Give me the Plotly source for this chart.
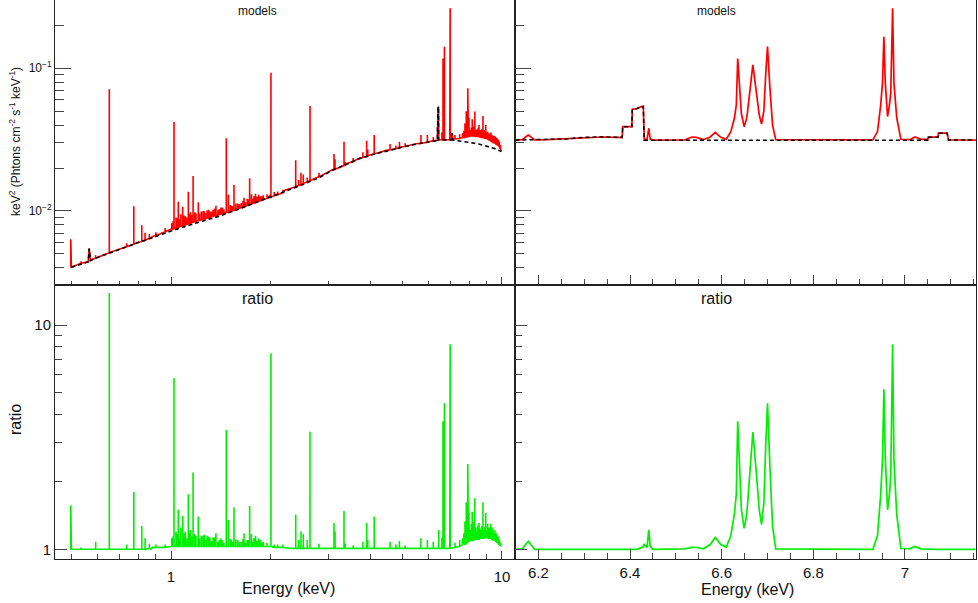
import plotly.graph_objects as go

# ---------------- DATA ----------------
# Wide band (0.5-10 keV): continuum model (black dashed)
CONT_E = [0.50, 0.562, 0.566, 0.571, 0.60, 0.70, 0.80, 0.90, 1.00, 1.20, 1.40, 1.60, 1.80, 2.00, 2.21,
          2.50, 2.80, 3.10, 3.40, 3.70, 4.00, 4.50, 5.00, 5.50, 6.00, 6.38, 6.384, 6.404, 6.405, 6.429,
          6.431, 7.05, 7.051, 7.073, 7.095, 7.50, 8.00, 8.50, 9.00, 9.50, 9.96]
CONT_Y = [0.00403, 0.00440, 0.00545, 0.00450, 0.00473, 0.00541, 0.00603, 0.00663, 0.00724, 0.00828,
          0.00920, 0.01030, 0.01140, 0.01260, 0.01370, 0.01530, 0.01710, 0.01950, 0.02130, 0.02320,
          0.02460, 0.02650, 0.02800, 0.02940, 0.03040, 0.03120, 0.0390, 0.0390, 0.0516, 0.0540,
          0.0314, 0.0314, 0.0329, 0.0351, 0.0314, 0.0310, 0.0302, 0.0295, 0.0285, 0.0274, 0.0261]

# Wide band: full model (red) baseline knots between lines
MODEL_KNOT_E = [0.50, 0.562, 0.566, 0.571, 0.60, 0.70, 0.80, 0.88, 0.90, 1.00, 1.20, 1.40, 1.60, 1.80,
                2.00, 2.21, 2.50, 2.80, 3.10, 3.40, 3.70, 4.00, 4.50, 5.00, 5.50, 6.00, 6.38, 6.384,
                6.404, 6.405, 6.429, 6.431, 7.00, 7.05, 7.051, 7.073, 7.095, 7.20, 7.50, 8.00, 8.50,
                9.00, 9.50, 9.80, 9.96]
MODEL_KNOT_Y = [0.00403, 0.00440, 0.00545, 0.00450, 0.00473, 0.00541, 0.00603, 0.00660, 0.00680,
                0.00745, 0.00850, 0.00950, 0.01060, 0.01170, 0.01295, 0.01400, 0.01560, 0.01745,
                0.01970, 0.02150, 0.02340, 0.02480, 0.02670, 0.02820, 0.02960, 0.03060, 0.03130,
                0.0390, 0.0390, 0.0516, 0.0540, 0.0316, 0.0316, 0.0317, 0.0329, 0.0351, 0.0318,
                0.0320, 0.0325, 0.0335, 0.0335, 0.0325, 0.0305, 0.0285, 0.0262]

# Wide band emission lines: energy, model level at foot, model peak, ratio peak, ratio at foot
LINE_E = [0.498, 0.535, 0.592, 0.651, 0.735, 0.772, 0.816, 0.835, 0.86, 0.90, 0.96, 1.005, 1.021,
          1.035, 1.052, 1.070, 1.085, 1.105, 1.128, 1.145, 1.166, 1.19, 1.209, 1.235, 1.26, 1.285,
          1.31, 1.34, 1.367, 1.40, 1.43, 1.469, 1.49, 1.52, 1.55, 1.59, 1.63, 1.662, 1.70, 1.728,
          1.75, 1.78, 1.80, 1.84, 1.86, 1.90, 2.004, 2.05, 2.10, 2.18, 2.381, 2.43, 2.47, 2.51,
          2.58, 2.63, 2.80, 3.108, 3.13, 3.332, 3.36, 3.55, 3.80, 3.90, 3.93, 4.11, 4.59, 4.78,
          4.90, 5.10, 5.69, 5.95, 6.20, 6.441, 6.586, 6.635, 6.668, 6.700, 6.954, 6.973, 7.21,
          7.45, 7.73, 7.80, 7.88, 7.95, 8.13, 8.20, 8.28, 8.40, 8.52, 8.65, 8.76, 8.93, 9.05,
          9.15, 9.25, 9.35, 9.50, 9.62, 9.75]
LINE_FOOT = [0.00403, 0.00430, 0.00468, 0.00510, 0.00562, 0.00585, 0.00612, 0.00624, 0.00645,
             0.00670, 0.00715, 0.00742, 0.00750, 0.00760, 0.00770, 0.00780, 0.00790, 0.00800,
             0.00812, 0.00822, 0.00835, 0.00845, 0.00855, 0.00868, 0.00880, 0.00890, 0.00902,
             0.00918, 0.00930, 0.00945, 0.00960, 0.00975, 0.00985, 0.00998, 0.01010, 0.01035,
             0.01055, 0.01075, 0.01095, 0.01110, 0.01120, 0.01140, 0.01150, 0.01170, 0.01180,
             0.01205, 0.01250, 0.01280, 0.01300, 0.01345, 0.01480, 0.01510, 0.01530, 0.01560,
             0.01600, 0.01630, 0.01730, 0.01950, 0.01960, 0.02080, 0.02100, 0.02220, 0.02370,
             0.02410, 0.02430, 0.02510, 0.02680, 0.02730, 0.02780, 0.02830, 0.02980, 0.03030,
             0.03100, 0.0316, 0.0316, 0.0316, 0.0316, 0.0316, 0.0316, 0.0316, 0.0320, 0.0322,
             0.0328, 0.0330, 0.0332, 0.0333, 0.0335, 0.0335, 0.0335, 0.0335, 0.0333, 0.0330,
             0.0328, 0.0325, 0.0320, 0.0315, 0.0310, 0.0305, 0.0300, 0.0294, 0.0288]
LINE_PEAK = [0.00633, 0.00445, 0.00490, 0.0713, 0.00595, 0.0108, 0.00794, 0.00705, 0.00690,
             0.00710, 0.00760, 0.00820, 0.0421, 0.00900, 0.0116, 0.00950, 0.0107, 0.00920,
             0.01365, 0.00980, 0.01757, 0.00960, 0.0115, 0.00990, 0.00995, 0.01010, 0.00990,
             0.01020, 0.0109, 0.01030, 0.01060, 0.0324, 0.0130, 0.01090, 0.0152, 0.01130,
             0.01140, 0.01239, 0.01220, 0.01694, 0.01310, 0.01270, 0.01320, 0.01300, 0.01270,
             0.01290, 0.0932, 0.01360, 0.01370, 0.01410, 0.0227, 0.01650, 0.01850, 0.01800,
             0.01720, 0.0544, 0.01850, 0.0251, 0.02300, 0.0306, 0.02200, 0.02350, 0.02580,
             0.0311, 0.02700, 0.0341, 0.02950, 0.02880, 0.0306, 0.02980, 0.0341, 0.0341,
             0.0330, 0.0380, 0.0356, 0.117, 0.1055, 0.1418, 0.1665, 0.263, 0.0341, 0.0345,
             0.0412, 0.0500, 0.0724, 0.0450, 0.0439, 0.0380, 0.0497, 0.0370, 0.0401, 0.0370,
             0.0463, 0.0401, 0.0360, 0.0345, 0.0355, 0.0340, 0.0335, 0.0325, 0.0315]
LINE_RATIO = [1.57, 1.02, 1.08, 13.9, 1.05, 1.80, 1.27, 1.12, 1.06, 1.05, 1.05, 1.12, 5.80, 1.20,
              1.50, 1.25, 1.41, 1.20, 1.76, 1.22, 2.20, 1.15, 1.40, 1.15, 1.16, 1.15, 1.12, 1.13,
              1.18, 1.10, 1.10, 3.40, 1.35, 1.10, 1.54, 1.10, 1.08, 1.18, 1.10, 1.56, 1.17, 1.12,
              1.15, 1.12, 1.10, 1.08, 7.49, 1.05, 1.05, 1.05, 1.43, 1.10, 1.20, 1.17, 1.10, 3.34,
              1.06, 1.31, 1.20, 1.48, 1.06, 1.04, 1.08, 1.31, 1.10, 1.40, 1.08, 1.05, 1.09, 1.04,
              1.12, 1.10, 1.08, 1.22, 1.13, 3.72, 3.33, 4.48, 5.17, 8.20, 1.07, 1.10, 1.33, 1.62,
              2.40, 1.45, 1.47, 1.25, 1.69, 1.20, 1.31, 1.22, 1.62, 1.45, 1.30, 1.25, 1.30, 1.25,
              1.22, 1.18, 1.14]
LINE_RFOOT = [1.00, 1.00, 1.00, 1.00, 1.00, 1.00, 1.00, 1.00, 1.01, 1.02, 1.02, 1.03, 1.03, 1.03,
              1.03, 1.03, 1.03, 1.03, 1.03, 1.03, 1.03, 1.03, 1.03, 1.03, 1.03, 1.03, 1.03, 1.03,
              1.03, 1.03, 1.03, 1.03, 1.03, 1.03, 1.03, 1.03, 1.03, 1.03, 1.03, 1.03, 1.03, 1.03,
              1.03, 1.03, 1.03, 1.03, 1.03, 1.02, 1.02, 1.02, 1.01, 1.01, 1.01, 1.01, 1.01, 1.01,
              1.01, 1.01, 1.01, 1.01, 1.01, 1.01, 1.01, 1.01, 1.01, 1.01, 1.01, 1.01, 1.01, 1.01,
              1.01, 1.01, 1.01, 1.01, 1.01, 1.01, 1.01, 1.01, 1.01, 1.01, 1.02, 1.03, 1.05, 1.06,
              1.07, 1.08, 1.09, 1.10, 1.10, 1.11, 1.11, 1.12, 1.12, 1.13, 1.13, 1.12, 1.12, 1.11,
              1.10, 1.08, 1.06]

# Weak line "grass" (1-2 keV L-shell forest and 7.5-10 keV forest)
GRASS_E = [1.015, 1.045, 1.06, 1.095, 1.115, 1.135, 1.155, 1.18, 1.22, 1.25, 1.275, 1.30, 1.325,
           1.355, 1.385, 1.415, 1.445, 1.51, 1.535, 1.57, 1.61, 1.65, 1.68, 1.715, 1.765, 1.82,
           1.88, 1.95, 7.60, 7.67, 7.84, 7.92, 8.02, 8.08, 8.16, 8.24, 8.34, 8.46, 8.58, 8.70,
           8.82, 8.88, 8.99, 9.10, 9.20, 9.30, 9.42, 9.56, 9.68, 9.82, 9.90]
GRASS_FOOT = [0.00748, 0.00765, 0.00775, 0.00795, 0.00805, 0.00815, 0.00828, 0.00840, 0.00862,
              0.00875, 0.00885, 0.00898, 0.00910, 0.00925, 0.00938, 0.00952, 0.00965, 0.00992,
              0.01005, 0.01020, 0.01045, 0.01065, 0.01080, 0.01100, 0.01130, 0.01160, 0.01190,
              0.01225, 0.0326, 0.0328, 0.0331, 0.0333, 0.0335, 0.0335, 0.0335, 0.0335, 0.0334,
              0.0333, 0.0330, 0.0328, 0.0326, 0.0324, 0.0320, 0.0316, 0.0312, 0.0307, 0.0302,
              0.0296, 0.0290, 0.0280, 0.0272]
GRASS_PEAK = [0.0085, 0.0089, 0.0087, 0.0093, 0.0090, 0.0095, 0.0094, 0.0098, 0.0096, 0.0100,
              0.0097, 0.0102, 0.0099, 0.0104, 0.0101, 0.0106, 0.0103, 0.0110, 0.0108, 0.0113,
              0.0112, 0.0118, 0.0115, 0.0121, 0.0122, 0.0126, 0.0127, 0.0131, 0.0350, 0.0365,
              0.0380, 0.0395, 0.0370, 0.0385, 0.0378, 0.0392, 0.0372, 0.0380, 0.0368, 0.0375,
              0.0362, 0.0370, 0.0355, 0.0350, 0.0348, 0.0342, 0.0336, 0.0330, 0.0322, 0.0306,
              0.0290]
GRASS_RATIO = [1.14, 1.17, 1.12, 1.18, 1.12, 1.17, 1.14, 1.17, 1.12, 1.15, 1.10, 1.14, 1.09, 1.13,
               1.08, 1.12, 1.07, 1.11, 1.08, 1.11, 1.08, 1.11, 1.07, 1.10, 1.08, 1.09, 1.07, 1.07,
               1.12, 1.18, 1.25, 1.35, 1.22, 1.30, 1.28, 1.33, 1.25, 1.28, 1.24, 1.27, 1.22, 1.26,
               1.22, 1.22, 1.22, 1.20, 1.18, 1.17, 1.14, 1.10, 1.07]
GRASS_RFOOT = [1.03, 1.03, 1.03, 1.03, 1.03, 1.03, 1.03, 1.03, 1.03, 1.03, 1.03, 1.03, 1.03, 1.03,
               1.03, 1.03, 1.03, 1.03, 1.03, 1.03, 1.03, 1.03, 1.03, 1.03, 1.03, 1.03, 1.03, 1.03,
               1.05, 1.06, 1.08, 1.09, 1.10, 1.10, 1.10, 1.11, 1.11, 1.11, 1.12, 1.12, 1.12, 1.13,
               1.13, 1.12, 1.12, 1.11, 1.10, 1.09, 1.07, 1.05, 1.04]

RATIO_KNOT_E = [0.50, 0.87, 0.88, 1.00, 1.30, 2.00, 2.30, 3.00, 5.00, 6.30, 7.20, 7.70, 8.50, 9.00,
                9.70, 9.96]
RATIO_KNOT_Y = [1.00, 1.00, 1.02, 1.03, 1.03, 1.03, 1.01, 1.01, 1.01, 1.01, 1.02, 1.06, 1.11, 1.13,
                1.08, 1.03]

# Zoomed band (6.15-7.15 keV)
ZOOM_E = [6.150, 6.165, 6.172, 6.178, 6.185, 6.192, 6.22, 6.26, 6.30, 6.34, 6.370, 6.383, 6.384,
          6.404, 6.405, 6.415, 6.426, 6.429, 6.431, 6.437, 6.441, 6.444, 6.45, 6.52, 6.535, 6.545,
          6.56, 6.575, 6.586, 6.598, 6.610, 6.620, 6.628, 6.632, 6.635, 6.638, 6.643, 6.649, 6.654,
          6.656, 6.661, 6.668, 6.674, 6.680, 6.682, 6.687, 6.692, 6.696, 6.700, 6.705, 6.711,
          6.718, 6.93, 6.940, 6.947, 6.951, 6.954, 6.957, 6.962, 6.966, 6.969, 6.973, 6.976,
          6.982, 6.991, 7.010, 7.022, 7.035, 7.050, 7.051, 7.072, 7.073, 7.092, 7.095, 7.154]
ZOOM_MODEL = [0.0314, 0.0316, 0.0330, 0.0341, 0.0328, 0.0315, 0.0316, 0.0320, 0.0328, 0.0330,
              0.0328, 0.0328, 0.0390, 0.0390, 0.0516, 0.0522, 0.0540, 0.0540, 0.0316, 0.0318,
              0.0380, 0.0320, 0.0314, 0.0315, 0.0330, 0.0328, 0.0316, 0.0330, 0.0356, 0.0328,
              0.0318, 0.0360, 0.0450, 0.0553, 0.117, 0.080, 0.048, 0.039, 0.044, 0.0483, 0.070,
              0.1055, 0.075, 0.050, 0.047, 0.0407, 0.050, 0.090, 0.1418, 0.075, 0.040, 0.0316,
              0.0315, 0.036, 0.055, 0.080, 0.1665, 0.080, 0.0459, 0.055, 0.0669, 0.263, 0.0785,
              0.045, 0.0318, 0.0316, 0.0330, 0.0318, 0.0318, 0.0329, 0.0329, 0.0351, 0.0351,
              0.0315, 0.0314]
ZOOM_CONT_E = [6.150, 6.22, 6.26, 6.30, 6.34, 6.383, 6.384, 6.404, 6.405, 6.415, 6.426, 6.429,
               6.431, 7.050, 7.051, 7.072, 7.073, 7.092, 7.095, 7.154]
ZOOM_CONT = [0.0314, 0.0316, 0.0320, 0.0328, 0.0330, 0.0328, 0.0390, 0.0390, 0.0516, 0.0522,
             0.0540, 0.0540, 0.0313, 0.0313, 0.0329, 0.0329, 0.0351, 0.0351, 0.0314, 0.0314]
ZOOM_RATIO = [1.000, 1.005, 1.05, 1.085, 1.04, 1.00, 1.00, 1.00, 1.00, 1.00, 1.00, 1.00, 1.00,
              1.00, 1.00, 1.00, 1.02, 1.03, 1.05, 1.02, 1.22, 1.03, 1.00, 1.005, 1.02, 1.02,
              1.005, 1.05, 1.13, 1.05, 1.024, 1.15, 1.45, 1.76, 3.72, 2.55, 1.50, 1.24, 1.40,
              1.54, 2.20, 3.33, 2.40, 1.60, 1.50, 1.29, 1.60, 2.85, 4.48, 2.40, 1.27, 1.005,
              1.00, 1.15, 1.75, 2.55, 5.17, 2.55, 1.50, 1.75, 2.13, 8.20, 2.50, 1.43, 1.01,
              1.005, 1.03, 1.005, 1.00, 1.00, 1.00, 1.00, 1.00, 1.00, 1.00]


# ---------------- helpers ----------------
def spiky(knot_e, knot_y, line_e, line_foot, line_peak):
    pts = [(e, 0, y) for e, y in zip(knot_e, knot_y)]
    for e, f, p in zip(line_e, line_foot, line_peak):
        pts += [(e, 1, f), (e, 2, p), (e, 3, f)]
    pts.sort(key=lambda t: (t[0], t[1]))
    return [p[0] for p in pts], [p[2] for p in pts]


RED = "#ff0000"
GREEN = "#00ee00"
BLACK = "#000000"
FONT = "Liberation Sans, Arial, sans-serif"

ALL_E = LINE_E + GRASS_E
ALL_FOOT = LINE_FOOT + GRASS_FOOT
ALL_PEAK = LINE_PEAK + GRASS_PEAK
ALL_RATIO = LINE_RATIO + GRASS_RATIO
ALL_RFOOT = LINE_RFOOT + GRASS_RFOOT

fig = go.Figure()

mx, my = spiky(MODEL_KNOT_E, MODEL_KNOT_Y, ALL_E, ALL_FOOT, ALL_PEAK)
fig.add_trace(go.Scatter(x=mx, y=my, mode="lines", line=dict(color=RED, width=1.6),
                         xaxis="x", yaxis="y", showlegend=False, hoverinfo="skip"))
fig.add_trace(go.Scatter(x=CONT_E, y=CONT_Y, mode="lines",
                         line=dict(color=BLACK, width=1.6, dash="4px,3px"),
                         xaxis="x", yaxis="y", showlegend=False, hoverinfo="skip"))

fig.add_trace(go.Scatter(x=ZOOM_E, y=ZOOM_MODEL, mode="lines", line=dict(color=RED, width=1.7),
                         xaxis="x2", yaxis="y2", showlegend=False, hoverinfo="skip"))
fig.add_trace(go.Scatter(x=ZOOM_CONT_E, y=ZOOM_CONT, mode="lines",
                         line=dict(color=BLACK, width=1.5, dash="4px,3px"),
                         xaxis="x2", yaxis="y2", showlegend=False, hoverinfo="skip"))

rx, ry = spiky(RATIO_KNOT_E, RATIO_KNOT_Y, ALL_E, ALL_RFOOT, ALL_RATIO)
fig.add_trace(go.Scatter(x=rx, y=ry, mode="lines", line=dict(color=GREEN, width=1.6),
                         xaxis="x3", yaxis="y3", showlegend=False, hoverinfo="skip"))
fig.add_trace(go.Scatter(x=ZOOM_E, y=ZOOM_RATIO, mode="lines", line=dict(color=GREEN, width=1.7),
                         xaxis="x4", yaxis="y4", showlegend=False, hoverinfo="skip"))

W, H = 978, 603
XL = [55 / W, 515 / W]
XR = [515 / W, 976 / W]
YT = [(H - 285) / H, 1.0]
YB = [(H - 559) / H, (H - 285) / H]

LOGX_RANGE = [-0.3505, 1.0393]
LINX_RANGE = [6.149, 7.155]
TOPY_RANGE = [-2.5186, -0.5216]
BOTY_RANGE = [-0.0432, 1.1784]

log_minor_x = [0.5, 0.6, 0.7, 0.8, 0.9, 2, 3, 4, 5, 6, 7, 8, 9]
log_minor_top = [0.004, 0.005, 0.006, 0.007, 0.008, 0.009, 0.02, 0.03, 0.04, 0.05, 0.06,
                 0.07, 0.08, 0.09, 0.2, 0.3]
log_minor_bot = [2, 3, 4, 5, 6, 7, 8, 9]

common = dict(showline=True, linecolor="#222", linewidth=1, mirror=True, showgrid=False,
              zeroline=False, ticks="inside", tickcolor="#444", tickwidth=1,
              tickfont=dict(family=FONT, size=15, color="#111"))

def minor(vals, ln):
    return dict(tickvals=vals, ticks="inside", ticklen=ln, tickcolor="#444", showgrid=False)

fig.update_layout(
    width=W, height=H, margin=dict(l=0, r=0, t=0, b=0),
    paper_bgcolor="white", plot_bgcolor="white",
    font=dict(family=FONT, color="#111"),
    xaxis=dict(domain=XL, anchor="y", type="log", range=LOGX_RANGE, tickvals=[1, 10],
               showticklabels=False, ticklen=8, minor=minor(log_minor_x, 4), **common),
    yaxis=dict(domain=YT, anchor="x", type="log", range=TOPY_RANGE, tickvals=[0.01, 0.1],
               ticktext=["10<sup>\u22122</sup>", "10<sup>\u22121</sup>"], ticklen=16,
               minor=minor(log_minor_top, 9),
               **{**common, "tickfont": dict(family=FONT, size=12, color="#111")}),
    xaxis2=dict(domain=XR, anchor="y2", range=LINX_RANGE, tickvals=[6.2, 6.4, 6.6, 6.8, 7.0],
                showticklabels=False, ticklen=10, minor=dict(dtick=0.05, ticks="inside",
                ticklen=6, tickcolor="#444", showgrid=False), **common),
    yaxis2=dict(domain=YT, anchor="x2", type="log", range=TOPY_RANGE, tickvals=[0.01, 0.1],
                showticklabels=False, ticklen=16, minor=minor(log_minor_top, 9), **common),
    xaxis3=dict(domain=XL, anchor="y3", type="log", range=LOGX_RANGE, tickvals=[1, 10],
                ticktext=["1", "10"], ticklen=8, minor=minor(log_minor_x, 5),
                ticklabelstandoff=4, **common),
    yaxis3=dict(domain=YB, anchor="x3", type="log", range=BOTY_RANGE, tickvals=[1, 10],
                ticktext=["1", "10"], ticklen=12, minor=minor(log_minor_bot, 7), **common),
    xaxis4=dict(domain=XR, anchor="y4", range=LINX_RANGE, tickvals=[6.2, 6.4, 6.6, 6.8, 7.0],
                ticktext=["6.2", "6.4", "6.6", "6.8", "7"], ticklen=10,
                minor=dict(dtick=0.05, ticks="inside", ticklen=6, tickcolor="#444",
                           showgrid=False), ticklabelstandoff=0, **common),
    yaxis4=dict(domain=YB, anchor="x4", type="log", range=BOTY_RANGE, tickvals=[1, 10],
                showticklabels=False, ticklen=12, minor=minor(log_minor_bot, 7), **common),
)

def ann(text, px, py, size, angle=0):
    fig.add_annotation(text=text, x=px / W, y=1 - py / H, xref="paper", yref="paper",
                       showarrow=False, textangle=angle, xanchor="center", yanchor="middle",
                       font=dict(family=FONT, size=size, color="#111"))

ann("models", 257, 11, 12)
ann("models", 716, 11, 12)
ann("ratio", 257, 298, 16)
ann("ratio", 716, 298, 16)
ann("Energy (keV)", 288, 588, 16)
ann("Energy (keV)", 747, 589, 16)
ann("keV<sup>2</sup> (Phtons cm<sup>-2</sup> s<sup>-1</sup> keV<sup>-1</sup>)", 15, 142, 12, -90)
ann("ratio", 15, 420, 16, -90)

fig.write_html("out.html")
